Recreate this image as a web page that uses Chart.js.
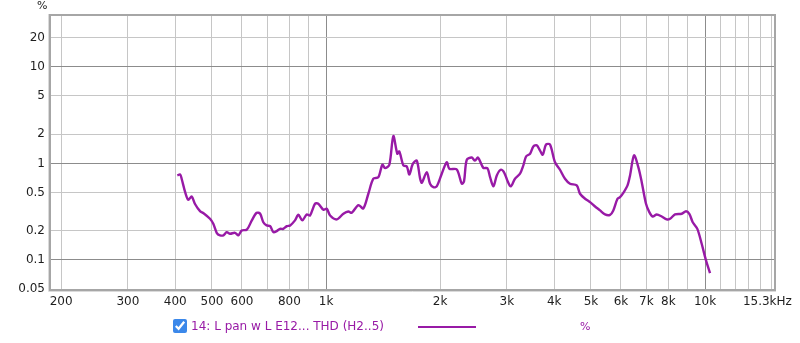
<!DOCTYPE html>
<html>
<head>
<meta charset="utf-8">
<script src="https://cdn.jsdelivr.net/npm/chart.js@4.4.1/dist/chart.umd.min.js"></script>
<style>
    html, body { margin: 0; padding: 0; background: #fff; }
    #wrap { position: relative; width: 800px; height: 343px; font-family: "DejaVu Sans", sans-serif; }
    #wrap canvas { position: absolute; left: 0; top: 0; }
    .lbl { position: absolute; white-space: nowrap; }
    #unitTop { left: 37px; top: -1px; font-size: 11px; color: #222; }
    #chk { position: absolute; left: 173px; top: 319px; width: 14px; height: 14px; margin: 0; accent-color: #3b88ea; }
    #serie { left: 191px; top: 319px; font-size: 12px; color: #981aa6; }
    #serieLine { position: absolute; left: 418px; top: 326px; width: 58px; height: 2px; background: #981aa6; }
    #unitLeg { left: 580px; top: 320px; font-size: 11px; color: #981aa6; }
</style>
</head>
<body>
<div id="wrap">
    <canvas id="graphThd" width="800" height="343"></canvas>
    <div class="lbl" id="unitTop">%</div>
    <input type="checkbox" id="chk" checked>
    <div class="lbl" id="serie">14: L pan w L E12... THD (H2..5)</div>
    <div id="serieLine"></div>
    <div class="lbl" id="unitLeg">%</div>
</div>
<script>
"use strict"

// *** DATI *** //

const freqs = [405, 412, 416, 425, 433, 442, 451, 465, 475, 494, 504, 515, 525, 536, 547, 558, 575, 587, 599, 618,
    637, 656, 670, 683, 697, 712, 726, 741, 756, 771, 788, 804, 828, 845, 866, 889, 907, 935, 954, 984,
    1004, 1025, 1067, 1111, 1145, 1169, 1217, 1254, 1293, 1333, 1374, 1408, 1431, 1469, 1505, 1542, 1561, 1600, 1633, 1659,
    1694, 1735, 1770, 1789, 1844, 1881, 1919, 1959, 2020, 2082, 2115, 2213, 2281, 2312, 2351, 2423, 2472, 2518, 2600, 2665,
    2709, 2764, 2822, 2890, 2949, 3008, 3071, 3152, 3250, 3316, 3371, 3454, 3524, 3597, 3670, 3731, 3806, 3899, 4019, 4143,
    4271, 4403, 4586, 4679, 4825, 4973, 5127, 5284, 5446, 5615, 5728, 5876, 5966, 6087, 6245, 6341, 6497, 6668, 6808, 6987,
    7129, 7278, 7458, 7688, 7924, 8086, 8335, 8679, 8910, 9090, 9280, 9544, 9800, 10060, 10310];

const thd = [0.75, 0.77, 0.69, 0.50, 0.42, 0.455, 0.38, 0.32, 0.305, 0.267, 0.237, 0.19, 0.18, 0.18, 0.194, 0.187, 0.191, 0.18, 0.202, 0.206,
    0.257, 0.308, 0.301, 0.246, 0.228, 0.224, 0.194, 0.199, 0.21, 0.21, 0.224, 0.228, 0.257, 0.294, 0.257, 0.296, 0.289, 0.382, 0.382, 0.331,
    0.339, 0.289, 0.263, 0.301, 0.318, 0.308, 0.37, 0.342, 0.485, 0.694, 0.72, 0.97, 0.894, 0.97, 1.92, 1.26, 1.33, 0.953, 0.931, 0.769,
    0.99, 1.07, 0.704, 0.631, 0.81, 0.616, 0.568, 0.578, 0.782, 1.03, 0.88, 0.867, 0.616, 0.651, 1.09, 1.15, 1.07, 1.15, 0.90, 0.894,
    0.72, 0.578, 0.751, 0.86, 0.81, 0.667, 0.578, 0.694, 0.782, 0.953, 1.18, 1.26, 1.50, 1.54, 1.36, 1.23, 1.57, 1.57, 1.03, 0.86,
    0.694, 0.616, 0.592, 0.485, 0.431, 0.397, 0.358, 0.326, 0.296, 0.293, 0.326, 0.431, 0.447, 0.495, 0.592, 0.751, 1.21, 0.915, 0.64, 0.382,
    0.313, 0.282, 0.296, 0.282, 0.263, 0.267, 0.296, 0.301, 0.32, 0.301, 0.246, 0.21, 0.147, 0.099, 0.073];

const xGrid = [200, 300, 400, 500, 600, 700, 800, 900, 1000, 2000, 3000, 4000, 5000, 6000, 7000, 8000, 9000,
    10000, 11000, 12000, 13000, 14000, 15000, 15300];
const xLabels = { 200: "200", 300: "300", 400: "400", 500: "500", 600: "600", 800: "800", 1000: "1k",
    2000: "2k", 3000: "3k", 4000: "4k", 5000: "5k", 6000: "6k", 7000: "7k", 8000: "8k", 10000: "10k",
    15300: "15.3kHz\u00a0\u00a0\u00a0\u00a0" };
const yGrid = [0.05, 0.1, 0.2, 0.5, 1, 2, 5, 10, 20];
const yLabels = ["0.05", "0.1", "0.2", "0.5", "1", "2", "5", "10", "20"];
const decades = [0.1, 1, 10, 1000, 10000];

// *** GRAFICO *** //

const tickFont = { family: "DejaVu Sans", size: 12 };

function gridColor (ctx) {
    if (!ctx.tick)
        return "#c6c6c6";
    return decades.includes(ctx.tick.value) ? "#8c8c8c" : "#c6c6c6";
}

// cornice grigia attorno all'area del grafico
const frame = {
    id: "frame",
    afterDatasetsDraw (chart) {
        let a = chart.chartArea, c = chart.ctx;
        c.save();
        c.strokeStyle = "#dadada";
        c.lineWidth = 1;
        c.beginPath();
        c.moveTo(a.left - 2.5, a.top - 1);
        c.lineTo(a.left - 2.5, a.bottom + 2.5);
        c.lineTo(a.right + 1, a.bottom + 2.5);
        c.stroke();
        c.strokeStyle = "#a6a6a6";
        c.lineWidth = 2;
        c.strokeRect(a.left - 1, a.top, a.right - a.left + 1, a.bottom - a.top + 1);
        c.restore();
    }
};

let chartThd = new Chart(document.getElementById("graphThd"), {
    type: "line",
    data: {
        datasets: [
            {
                label: "14: L pan w L E12... THD (H2..5)",
                data: freqs.map((f, i) => ({ x: f, y: thd[i] })),
                borderColor: "#981aa6",
                backgroundColor: "#981aa6",
                borderWidth: 2.4,
                pointRadius: 0,
                tension: 0.3,
                fill: false
            }
        ]
    },
    options: {
        responsive: false,
        animation: false,
        layout: { padding: { top: 15, right: 25, left: 0, bottom: 0 } },
        plugins: { legend: { display: false }, tooltip: { enabled: false } },
        scales: {
            x: {
                type: "logarithmic",
                min: 188,
                max: 15300,
                afterBuildTicks: s => { s.ticks = xGrid.map(v => ({ value: v })); },
                afterFit: s => { s.height = 54; s.paddingLeft = 0; s.paddingRight = 0; },
                border: { display: false },
                grid: { color: gridColor, lineWidth: 1, drawTicks: false },
                ticks: {
                    autoSkip: false, maxRotation: 0, minRotation: 0, padding: 6,
                    color: "#1e1e1e", font: tickFont,
                    callback: v => xLabels[v] || ""
                }
            },
            y: {
                type: "logarithmic",
                min: 0.05,
                max: 34.5,
                afterBuildTicks: s => { s.ticks = yGrid.map(v => ({ value: v })); },
                afterFit: s => { s.width = 51; s.paddingTop = 0; s.paddingBottom = 0; },
                border: { display: false },
                grid: { color: gridColor, lineWidth: 1, drawTicks: false },
                ticks: {
                    autoSkip: false, padding: 6,
                    color: "#1e1e1e", font: tickFont,
                    callback: (v, i) => yLabels[i]
                }
            }
        }
    },
    plugins: [frame]
});
</script>
</body>
</html>
